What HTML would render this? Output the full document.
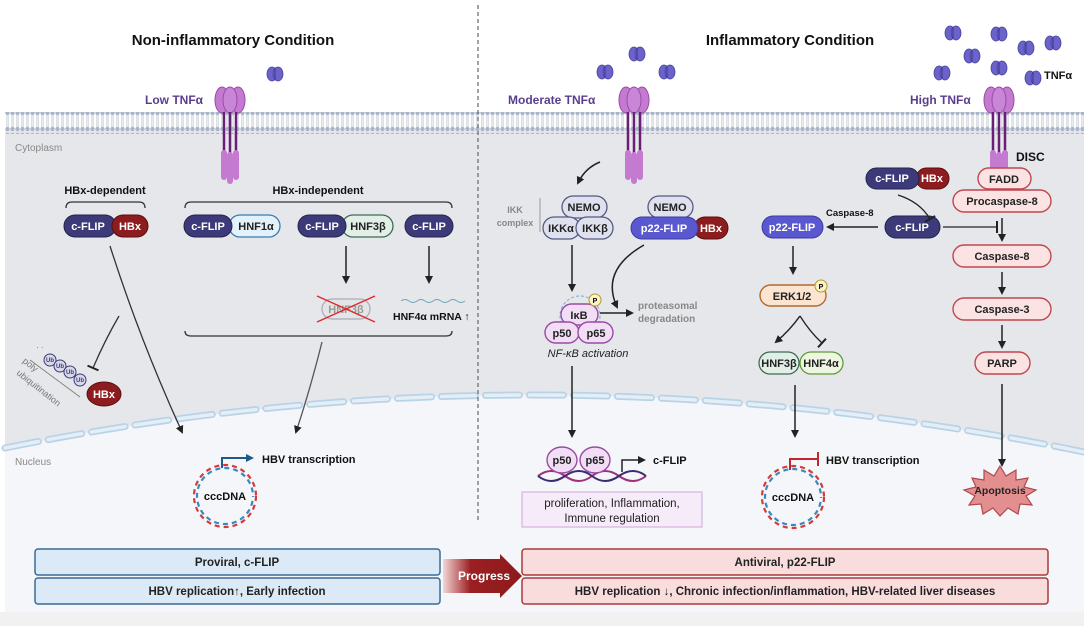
<!DOCTYPE html>
<html><head><meta charset="utf-8"><style>
html,body{margin:0;padding:0;background:#fff}
svg{display:block;font-family:"Liberation Sans",sans-serif}
.b{font-weight:bold}
</style></head><body>
<svg width="1084" height="626" viewBox="0 0 1084 626" xmlns="http://www.w3.org/2000/svg">
<defs>
<marker id="ah" markerWidth="8" markerHeight="8" refX="6" refY="4" orient="auto" markerUnits="userSpaceOnUse"><path d="M0,0 L8,4 L0,8 z" fill="#222"/></marker>
<marker id="ahb" markerWidth="8" markerHeight="8" refX="6" refY="4" orient="auto" markerUnits="userSpaceOnUse"><path d="M0,0 L8,4 L0,8 z" fill="#1d5a8a"/></marker>
<marker id="bar" markerWidth="4" markerHeight="12" refX="2" refY="6" orient="auto" markerUnits="userSpaceOnUse"><rect x="1" y="0" width="2" height="12" fill="#222"/></marker>
<marker id="barr" markerWidth="4" markerHeight="14" refX="2" refY="7" orient="auto" markerUnits="userSpaceOnUse"><rect x="1" y="0" width="2" height="14" fill="#c0262d"/></marker>
<pattern id="mem" x="0" y="0" width="5" height="22" patternUnits="userSpaceOnUse">
<circle cx="2.5" cy="3" r="2.2" fill="#a9b6c8"/><circle cx="2.5" cy="19" r="2.2" fill="#a9b6c8"/>
<line x1="1.8" y1="5" x2="1.8" y2="17" stroke="#c3cbd7" stroke-width="0.8"/><line x1="3.2" y1="5" x2="3.2" y2="17" stroke="#c3cbd7" stroke-width="0.8"/>
</pattern>
<g id="tnf"><ellipse cx="-3" cy="0" rx="5" ry="7" fill="#6b63c9" stroke="#4a43a0" stroke-width="0.8"/><ellipse cx="3" cy="0" rx="5" ry="7" fill="#6b63c9" stroke="#4a43a0" stroke-width="0.8"/><line x1="0" y1="-6" x2="0" y2="6" stroke="#3a3490" stroke-width="1"/></g>
<g id="rec">
<ellipse cx="-8" cy="0" rx="7" ry="13" fill="#c47ad1" stroke="#9a4aa8"/><ellipse cx="8" cy="0" rx="7" ry="13" fill="#c47ad1" stroke="#9a4aa8"/><ellipse cx="0" cy="0" rx="7" ry="13" fill="#c985d6" stroke="#9a4aa8"/>
<line x1="-6" y1="12" x2="-6" y2="55" stroke="#6a1f76" stroke-width="2.5"/><line x1="0" y1="12" x2="0" y2="55" stroke="#6a1f76" stroke-width="2.5"/><line x1="6" y1="12" x2="6" y2="55" stroke="#6a1f76" stroke-width="2.5"/>
<rect x="-9" y="50" width="6" height="30" rx="3" fill="#c47ad1"/><rect x="-3" y="52" width="6" height="32" rx="3" fill="#c47ad1"/><rect x="3" y="50" width="6" height="30" rx="3" fill="#c47ad1"/>
</g>
</defs>

<!-- backgrounds -->
<rect x="0" y="0" width="1084" height="626" fill="#fff"/>
<rect x="5" y="130" width="1079" height="482" fill="#e6e7ea"/>
<path d="M5,448 Q540,340 1084,452 L1084,612 L5,612 z" fill="#f4f6f9"/>
<rect x="0" y="612" width="1084" height="14" fill="#f1f1f1"/>
<rect x="5" y="112" width="1079" height="22" fill="url(#mem)"/>
<path d="M5,448 Q540,340 1084,452" fill="none" stroke="#b9d3e6" stroke-width="7" stroke-dasharray="34,10" stroke-linecap="round"/>
<path d="M5,448 Q540,340 1084,452" fill="none" stroke="#e3eef7" stroke-width="3.5" stroke-dasharray="34,10" stroke-linecap="round"/>
<line x1="478" y1="5" x2="478" y2="520" stroke="#666" stroke-width="1.2" stroke-dasharray="4,3"/>

<text x="233" y="45" text-anchor="middle" class="b" font-size="15" fill="#111">Non-inflammatory Condition</text>
<text x="790" y="45" text-anchor="middle" class="b" font-size="15" fill="#111">Inflammatory Condition</text>

<!-- TNF -->
<use href="#tnf" x="275" y="74"/>
<use href="#tnf" x="605" y="72"/><use href="#tnf" x="637" y="54"/><use href="#tnf" x="667" y="72"/>
<use href="#tnf" x="953" y="33"/><use href="#tnf" x="999" y="34"/><use href="#tnf" x="972" y="56"/><use href="#tnf" x="1026" y="48"/><use href="#tnf" x="1053" y="43"/><use href="#tnf" x="942" y="73"/><use href="#tnf" x="999" y="68"/><use href="#tnf" x="1033" y="78"/>
<text x="1044" y="79" class="b" font-size="11" fill="#111">TNFα</text>
<text x="145" y="104" class="b" font-size="12" fill="#5b3d8e">Low TNFα</text>
<text x="508" y="104" class="b" font-size="12" fill="#5b3d8e">Moderate TNFα</text>
<text x="910" y="104" class="b" font-size="12" fill="#5b3d8e">High TNFα</text>
<use href="#rec" x="230" y="100"/><use href="#rec" x="634" y="100"/><use href="#rec" x="999" y="100"/>

<text x="15" y="151" font-size="10" fill="#888">Cytoplasm</text>
<text x="15" y="465" font-size="10" fill="#888">Nucleus</text>

<g font-size="11" class="b" text-anchor="middle">
<!-- left -->
<text x="105" y="194" fill="#111">HBx-dependent</text>
<path d="M66,208 q0,-6 6,-6 h67 q6,0 6,6" fill="none" stroke="#333" stroke-width="1.3"/>
<rect x="64" y="215" width="52" height="22" rx="11" fill="#3c3a78" stroke="#23224f"/><text x="88" y="230" fill="#fff">c-FLIP</text>
<rect x="112" y="215" width="36" height="22" rx="11" fill="#8c1c1e" stroke="#5a0e10"/><text x="130" y="230" fill="#fff">HBx</text>

<text x="318" y="194" fill="#111">HBx-independent</text>
<path d="M185,208 q0,-6 6,-6 h255 q6,0 6,6" fill="none" stroke="#333" stroke-width="1.3"/>
<rect x="229" y="215" width="51" height="22" rx="11" fill="#e3f1fb" stroke="#3a7cb0" stroke-width="1.3"/><text x="256" y="230" fill="#222">HNF1α</text>
<rect x="184" y="215" width="48" height="22" rx="11" fill="#3c3a78" stroke="#23224f"/><text x="208" y="230" fill="#fff">c-FLIP</text>
<rect x="342" y="215" width="51" height="22" rx="11" fill="#e1efe7" stroke="#3f6b55" stroke-width="1.3"/><text x="368" y="230" fill="#222">HNF3β</text>
<rect x="298" y="215" width="48" height="22" rx="11" fill="#3c3a78" stroke="#23224f"/><text x="322" y="230" fill="#fff">c-FLIP</text>
<rect x="405" y="215" width="48" height="22" rx="11" fill="#3c3a78" stroke="#23224f"/><text x="429" y="230" fill="#fff">c-FLIP</text>
</g>
<line x1="346" y1="246" x2="346" y2="282" stroke="#222" stroke-width="1.5" marker-end="url(#ah)"/>
<line x1="429" y1="246" x2="429" y2="282" stroke="#222" stroke-width="1.5" marker-end="url(#ah)"/>
<rect x="322" y="299" width="48" height="20" rx="10" fill="#e3e6e6" stroke="#aab" stroke-width="1.2"/>
<text x="346" y="313" text-anchor="middle" font-size="11" class="b" fill="#999">HNF3β</text>
<line x1="317" y1="296" x2="375" y2="322" stroke="#e0282f" stroke-width="1.5"/><line x1="317" y1="322" x2="375" y2="296" stroke="#e0282f" stroke-width="1.5"/>
<path d="M401,301 q4,-3 8,0 t8,0 t8,0 t8,0 t8,0 t8,0 t8,0 t8,0" fill="none" stroke="#6aa7c0" stroke-width="1"/>
<text x="393" y="320" font-size="10.5" class="b" fill="#111">HNF4α mRNA ↑</text>
<path d="M185,331 q0,5 6,5 h255 q6,0 6,-5" fill="none" stroke="#333" stroke-width="1.3"/>
<path d="M322,342 Q310,390 296,432" fill="none" stroke="#555" stroke-width="1.3" marker-end="url(#ah)"/>
<path d="M110,246 Q140,340 182,432" fill="none" stroke="#333" stroke-width="1.3" marker-end="url(#ah)"/>
<path d="M119,316 Q105,340 93,368" fill="none" stroke="#333" stroke-width="1.3" marker-end="url(#bar)"/>
<!-- ub chain -->
<g font-size="6" class="b" fill="#3c3a78" text-anchor="middle">
<circle cx="50" cy="360" r="6" fill="#d7d9e8" stroke="#3c3a78"/><circle cx="60" cy="366" r="6" fill="#d7d9e8" stroke="#3c3a78"/><circle cx="70" cy="372" r="6" fill="#d7d9e8" stroke="#3c3a78"/><circle cx="80" cy="380" r="6" fill="#d7d9e8" stroke="#3c3a78"/>
<text x="50" y="362">Ub</text><text x="60" y="368">Ub</text><text x="70" y="374">Ub</text><text x="80" y="382">Ub</text>
</g>
<text x="36" y="350" font-size="8" fill="#666">·  ·</text>
<line x1="30" y1="360" x2="80" y2="397" stroke="#777" stroke-width="0.8"/>
<text transform="translate(22,362) rotate(38)" font-size="9" fill="#777">poly</text>
<text transform="translate(16,374) rotate(38)" font-size="9" fill="#777">ubiquitination</text>
<ellipse cx="104" cy="394" rx="17" ry="12" fill="#8c1c1e" stroke="#5a0e10"/>
<text x="104" y="398" text-anchor="middle" font-size="11" class="b" fill="#fff">HBx</text>

<!-- cccDNA left -->
<circle cx="225" cy="496" r="31" fill="none" stroke="#d33a3a" stroke-width="2.2" stroke-dasharray="5,4"/>
<circle cx="225" cy="496" r="28" fill="none" stroke="#3a88c0" stroke-width="2.2" stroke-dasharray="5,4" stroke-dashoffset="4"/>
<text x="225" y="500" text-anchor="middle" font-size="11" class="b" fill="#111">cccDNA</text>
<path d="M222,468 V458 H252" fill="none" stroke="#1d5a8a" stroke-width="2" marker-end="url(#ahb)"/>
<text x="262" y="463" font-size="11" class="b" fill="#111">HBV transcription</text>

<!-- middle -->
<path d="M600,162 Q585,168 578,183" fill="none" stroke="#222" stroke-width="1.5" marker-end="url(#ah)"/>
<text x="515" y="213" text-anchor="middle" font-size="9" class="b" fill="#888">IKK</text>
<text x="515" y="226" text-anchor="middle" font-size="9" class="b" fill="#888">complex</text>
<line x1="540" y1="198" x2="540" y2="232" stroke="#999" stroke-width="1"/>
<g font-size="11" class="b" text-anchor="middle">
<rect x="562" y="196" width="45" height="22" rx="11" fill="#dfe1ef" stroke="#555a80" stroke-width="1.3"/><text x="584" y="211" fill="#222">NEMO</text>
<rect x="543" y="217" width="37" height="22" rx="11" fill="#dfe1ef" stroke="#555a80" stroke-width="1.3"/><text x="561" y="232" fill="#222">IKKα</text>
<rect x="576" y="217" width="37" height="22" rx="11" fill="#dfe1ef" stroke="#555a80" stroke-width="1.3"/><text x="595" y="232" fill="#222">IKKβ</text>
<rect x="648" y="196" width="45" height="22" rx="11" fill="#dfe1ef" stroke="#555a80" stroke-width="1.3"/><text x="670" y="211" fill="#222">NEMO</text>
<rect x="694" y="217" width="34" height="22" rx="11" fill="#8c1c1e" stroke="#5a0e10"/><text x="711" y="232" fill="#fff">HBx</text>
<rect x="631" y="217" width="67" height="22" rx="11" fill="#5a58cf" stroke="#3d3aa0"/><text x="664" y="232" fill="#fff">p22-FLIP</text>
</g>
<line x1="572" y1="245" x2="572" y2="290" stroke="#222" stroke-width="1.5" marker-end="url(#ah)"/>
<path d="M644,245 Q600,270 617,307" fill="none" stroke="#222" stroke-width="1.5" marker-end="url(#ah)"/>
<circle cx="580" cy="316" r="20" fill="none" stroke="#8fb4d8" stroke-width="1.2" stroke-dasharray="3,2"/>
<g font-size="11" class="b" text-anchor="middle">
<rect x="561" y="304" width="37" height="21" rx="10.5" fill="#f1def5" stroke="#9a4aa5" stroke-width="1.4"/><text x="579" y="319" fill="#222">IκB</text>
<rect x="545" y="322" width="34" height="21" rx="10.5" fill="#f1def5" stroke="#9a4aa5" stroke-width="1.4"/><text x="562" y="337" fill="#222">p50</text>
<rect x="578" y="322" width="35" height="21" rx="10.5" fill="#f1def5" stroke="#9a4aa5" stroke-width="1.4"/><text x="596" y="337" fill="#222">p65</text>
</g>
<circle cx="595" cy="300" r="6" fill="#fbf3c8" stroke="#b59a2a"/><text x="595" y="303" text-anchor="middle" font-size="7" class="b">P</text>
<line x1="600" y1="313" x2="632" y2="313" stroke="#222" stroke-width="1.5" marker-end="url(#ah)"/>
<text x="638" y="309" font-size="10" class="b" fill="#888">proteasomal</text>
<text x="638" y="322" font-size="10" class="b" fill="#888">degradation</text>
<text x="588" y="357" text-anchor="middle" font-size="11" font-style="italic" fill="#222">NF-κB activation</text>
<line x1="572" y1="366" x2="572" y2="436" stroke="#222" stroke-width="1.5" marker-end="url(#ah)"/>

<!-- p50 p65 nucleus -->
<path d="M538,476 q13,-10 27,0 t27,0 t27,0 t27,0" fill="none" stroke="#a0307a" stroke-width="2"/>
<path d="M538,476 q13,10 27,0 t27,0 t27,0 t27,0" fill="none" stroke="#3c2b70" stroke-width="2"/>
<g font-size="11" class="b" text-anchor="middle">
<ellipse cx="562" cy="460" rx="15" ry="13" fill="#f1def5" stroke="#9a4aa5" stroke-width="1.4"/><text x="562" y="464" fill="#222">p50</text>
<ellipse cx="595" cy="460" rx="15" ry="13" fill="#f1def5" stroke="#9a4aa5" stroke-width="1.4"/><text x="595" y="464" fill="#222">p65</text>
</g>
<path d="M622,472 V460 H644" fill="none" stroke="#222" stroke-width="1.5" marker-end="url(#ah)"/>
<text x="653" y="464" font-size="11" class="b" fill="#111">c-FLIP</text>
<rect x="522" y="492" width="180" height="35" fill="#f6ebf8" stroke="#d7b8de" stroke-width="1.3"/>
<text x="612" y="507" text-anchor="middle" font-size="11.5" fill="#222">proliferation, Inflammation,</text>
<text x="612" y="522" text-anchor="middle" font-size="11.5" fill="#222">Immune regulation</text>

<!-- p22 branch -->
<text x="826" y="216" font-size="9.5" class="b" fill="#111">Caspase-8</text>
<g font-size="11" class="b" text-anchor="middle">
<rect x="762" y="216" width="61" height="22" rx="11" fill="#5a58cf" stroke="#3d3aa0"/><text x="792" y="231" fill="#fff">p22-FLIP</text>
<rect x="885" y="216" width="55" height="22" rx="11" fill="#3c3a78" stroke="#23224f"/><text x="912" y="231" fill="#fff">c-FLIP</text>
<rect x="916" y="168" width="33" height="21" rx="10.5" fill="#8c1c1e" stroke="#5a0e10"/><text x="932" y="182" fill="#fff">HBx</text>
<rect x="866" y="168" width="53" height="21" rx="10.5" fill="#3c3a78" stroke="#23224f"/><text x="892" y="182" fill="#fff">c-FLIP</text>
<rect x="760" y="285" width="66" height="21" rx="10.5" fill="#fbe5d0" stroke="#b06a30" stroke-width="1.4"/><text x="792" y="300" fill="#222">ERK1/2</text>
<rect x="759" y="352" width="40" height="22" rx="11" fill="#e1efe7" stroke="#3f6b55" stroke-width="1.3"/><text x="779" y="367" fill="#222">HNF3β</text>
<rect x="800" y="352" width="43" height="22" rx="11" fill="#eef6e1" stroke="#5e9a3a" stroke-width="1.3"/><text x="821" y="367" fill="#222">HNF4α</text>
<!-- caspase column -->
<rect x="978" y="168" width="53" height="21" rx="10.5" fill="#fbe3e3" stroke="#c0474f" stroke-width="1.4"/><text x="1004" y="183" fill="#222">FADD</text>
<rect x="953" y="190" width="98" height="22" rx="11" fill="#fbe3e3" stroke="#c0474f" stroke-width="1.4"/><text x="1002" y="205" fill="#222">Procaspase-8</text>
<rect x="953" y="245" width="98" height="22" rx="11" fill="#fbe3e3" stroke="#c0474f" stroke-width="1.4"/><text x="1002" y="260" fill="#222">Caspase-8</text>
<rect x="953" y="298" width="98" height="22" rx="11" fill="#fbe3e3" stroke="#c0474f" stroke-width="1.4"/><text x="1002" y="313" fill="#222">Caspase-3</text>
<rect x="975" y="352" width="55" height="22" rx="11" fill="#fbe3e3" stroke="#c0474f" stroke-width="1.4"/><text x="1002" y="367" fill="#222">PARP</text>
</g>
<text x="1016" y="161" font-size="12" class="b" fill="#111">DISC</text>
<circle cx="821" cy="286" r="6" fill="#fbf3c8" stroke="#b59a2a"/><text x="821" y="289" text-anchor="middle" font-size="7" class="b">P</text>
<line x1="878" y1="227" x2="828" y2="227" stroke="#222" stroke-width="1.5" marker-end="url(#ah)"/>
<line x1="943" y1="227" x2="997" y2="227" stroke="#222" stroke-width="1.3" marker-end="url(#bar)"/>
<path d="M898,195 Q920,202 930,219" fill="none" stroke="#222" stroke-width="1.3" marker-end="url(#bar)"/>
<line x1="793" y1="246" x2="793" y2="273" stroke="#222" stroke-width="1.5" marker-end="url(#ah)"/>
<path d="M800,316 Q790,330 776,342" fill="none" stroke="#222" stroke-width="1.5" marker-end="url(#ah)"/>
<path d="M800,316 Q810,332 822,343" fill="none" stroke="#222" stroke-width="1.3" marker-end="url(#bar)"/>
<line x1="795" y1="385" x2="795" y2="436" stroke="#222" stroke-width="1.5" marker-end="url(#ah)"/>
<line x1="1002" y1="218" x2="1002" y2="240" stroke="#222" stroke-width="1.5" marker-end="url(#ah)"/>
<line x1="1002" y1="272" x2="1002" y2="293" stroke="#222" stroke-width="1.5" marker-end="url(#ah)"/>
<line x1="1002" y1="325" x2="1002" y2="347" stroke="#222" stroke-width="1.5" marker-end="url(#ah)"/>
<line x1="1002" y1="384" x2="1002" y2="465" stroke="#222" stroke-width="1.5" marker-end="url(#ah)"/>

<!-- cccDNA right -->
<circle cx="793" cy="497" r="31" fill="none" stroke="#d33a3a" stroke-width="2.2" stroke-dasharray="5,4"/>
<circle cx="793" cy="497" r="28" fill="none" stroke="#3a88c0" stroke-width="2.2" stroke-dasharray="5,4" stroke-dashoffset="4"/>
<text x="793" y="501" text-anchor="middle" font-size="11" class="b" fill="#111">cccDNA</text>
<path d="M790,470 V459 H818" fill="none" stroke="#c0262d" stroke-width="2" marker-end="url(#barr)"/>
<text x="826" y="464" font-size="11" class="b" fill="#111">HBV transcription</text>

<!-- apoptosis -->
<polygon points="1000,466 1006,476 1016,470 1016,480 1028,478 1024,487 1036,490 1026,496 1032,505 1020,504 1018,514 1008,508 1000,516 993,508 983,514 981,504 969,505 975,496 964,490 976,487 972,478 984,480 984,470 994,476" fill="#e38f8f" stroke="#b0474f" stroke-width="1.2"/>
<text x="1000" y="494" text-anchor="middle" font-size="10.5" class="b" fill="#222">Apoptosis</text>

<!-- bottom -->
<g font-size="11.5" class="b" text-anchor="middle" fill="#222">
<rect x="35" y="549" width="405" height="26" rx="3" fill="#dce9f6" stroke="#3b6a96" stroke-width="1.5"/><text x="237" y="566">Proviral, c-FLIP</text>
<rect x="35" y="578" width="405" height="26" rx="3" fill="#dce9f6" stroke="#3b6a96" stroke-width="1.5"/><text x="237" y="595">HBV replication↑, Early infection</text>
<rect x="522" y="549" width="526" height="26" rx="3" fill="#f9dcdc" stroke="#a83a3a" stroke-width="1.5"/><text x="785" y="566">Antiviral, p22-FLIP</text>
<rect x="522" y="578" width="526" height="26" rx="3" fill="#f9dcdc" stroke="#a83a3a" stroke-width="1.5"/><text x="785" y="595">HBV replication ↓, Chronic infection/inflammation, HBV-related liver diseases</text>
</g>
<linearGradient id="pg" x1="0" x2="1"><stop offset="0" stop-color="#f3d6d6"/><stop offset="0.35" stop-color="#9b1f22"/><stop offset="1" stop-color="#8c1a1c"/></linearGradient>
<polygon points="443,559 500,559 500,554 522,576 500,598 500,593 443,593" fill="url(#pg)"/>
<text x="484" y="580" text-anchor="middle" font-size="12" class="b" fill="#fff">Progress</text>
</svg>
</body></html>
